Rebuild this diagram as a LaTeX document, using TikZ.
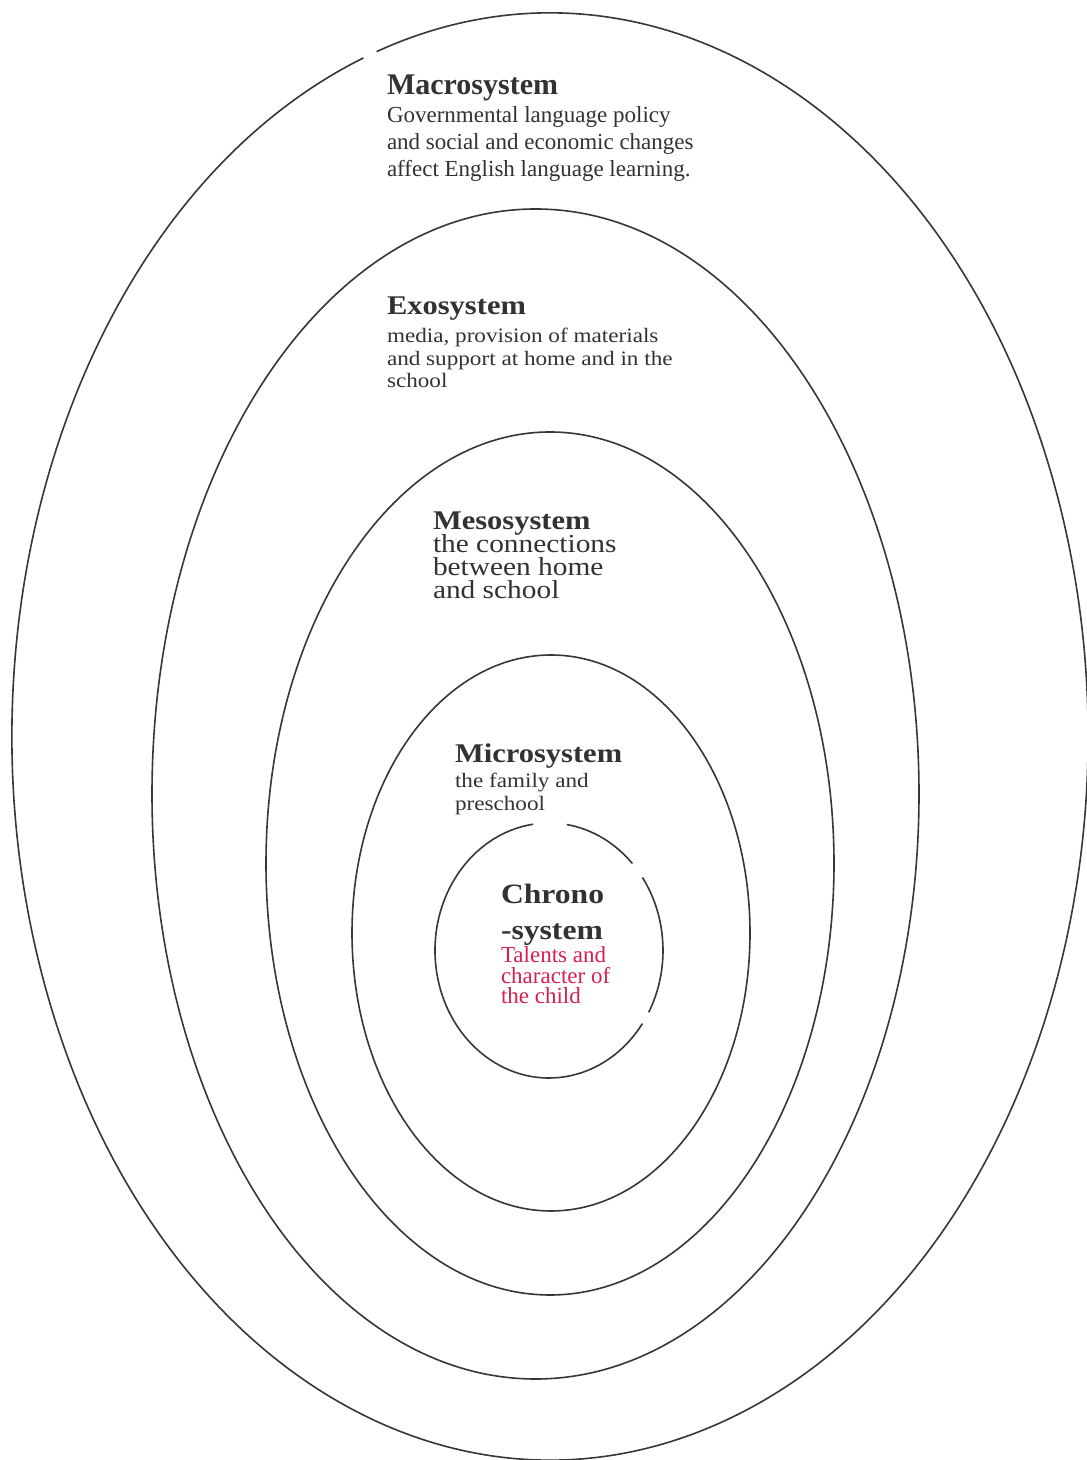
\documentclass[tikz,border=0pt]{standalone}
\usepackage{fontspec}
\setmainfont{Liberation Serif}
\newfontfamily\ws[FakeStretch=1.13]{Liberation Serif}
\definecolor{ink}{RGB}{55,55,55}
\definecolor{txt}{RGB}{50,50,50}
\definecolor{redtxt}{RGB}{214,32,82}
\begin{document}
\begin{tikzpicture}[x=1pt,y=1pt,
  ring/.style={draw=ink,line width=1.6pt},
  lbl/.style={anchor=base west,inner sep=0pt,outer sep=0pt,align=left,text=txt}]
\useasboundingbox[fill=white] (0,0) rectangle (1087,1460);
% centres
\coordinate (cMac) at (550,723.5);
\coordinate (cExo) at (535.5,666);
\coordinate (cMes) at (550,596.5);
\coordinate (cMic) at (551,527);
\coordinate (cChr) at (549,509.5);
% Macrosystem ring (small gap at upper left)
\draw[ring] (cMac) ++(110.3:538 and 723.5) arc[start angle=110.3,end angle=468.8,x radius=538,y radius=723.5];
% Exosystem, Mesosystem, Microsystem rings
\draw[ring] (cExo) ellipse[x radius=383.5,y radius=585];
\draw[ring] (cMes) ellipse[x radius=284,y radius=431.5];
\draw[ring] (cMic) ellipse[x radius=199,y radius=278];
% Chronosystem ring with gaps
\draw[ring] (cChr) ++(98:114 and 127.5) arc[start angle=98,end angle=325,x radius=114,y radius=127.5];
\draw[ring] (cChr) ++(-29:114 and 127.5) arc[start angle=-29,end angle=35,x radius=114,y radius=127.5];
\draw[ring] (cChr) ++(43:114 and 127.5) arc[start angle=43,end angle=81,x radius=114,y radius=127.5];
% texts (multi-line nodes: base = baseline of last line)
\node[lbl,font=\fontsize{30}{36}\selectfont\bfseries] (macT) at (387,1365) {Macrosystem};
\node[lbl,font=\fontsize{23}{27}\selectfont] (macB) at (387,1283) {Governmental language policy\\and social and economic changes\\affect English language learning.};
\node[lbl,font=\ws\fontsize{27}{32}\selectfont\bfseries] (exoT) at (387,1145) {Exosystem};
\node[lbl,font=\ws\fontsize{20.5}{22.5}\selectfont] (exoB) at (387,1072) {media, provision of materials\\and support at home and in the\\school};
\node[lbl,font=\ws\fontsize{27}{32}\selectfont\bfseries] (mesT) at (433,930) {Mesosystem};
\node[lbl,font=\ws\fontsize{26}{23.3}\selectfont] (mesB) at (433,861) {the connections\\between home\\and school};
\node[lbl,font=\ws\fontsize{27}{32}\selectfont\bfseries] (micT) at (455,697.7) {Microsystem};
\node[lbl,font=\ws\fontsize{20.5}{23}\selectfont] (micB) at (455,649) {the family and\\preschool};
\node[lbl,font=\ws\fontsize{28}{36}\selectfont\bfseries] (chrT) at (501,520.7) {Chrono\\-system};
\node[lbl,text=redtxt,font=\fontsize{23}{20.5}\selectfont] (chrB) at (501,456) {Talents and\\character of\\the child};
\end{tikzpicture}
\end{document}
